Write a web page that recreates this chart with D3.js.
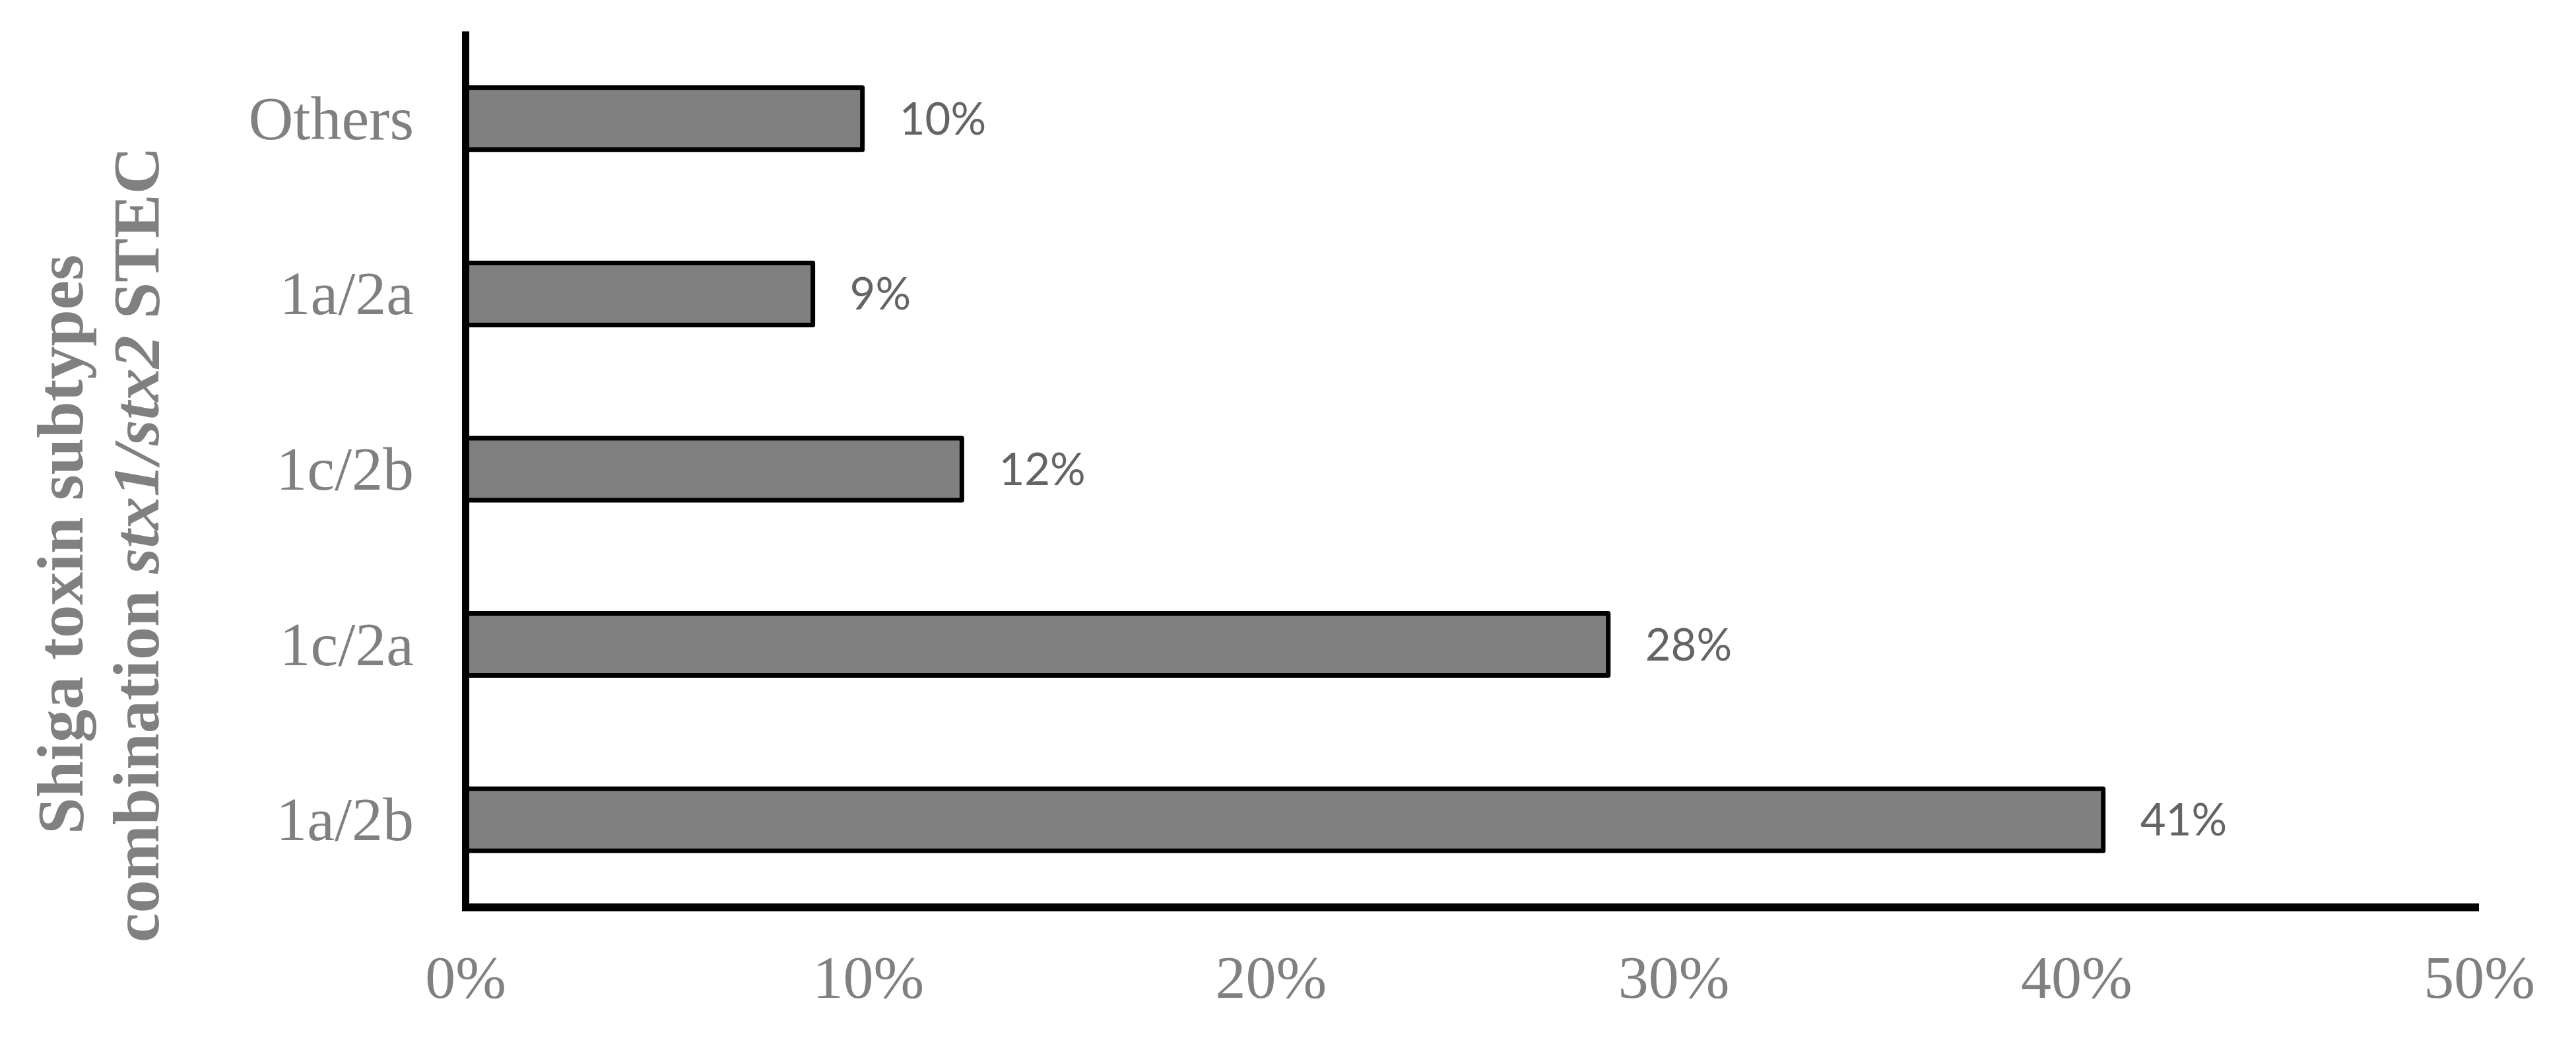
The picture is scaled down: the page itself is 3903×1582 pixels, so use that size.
<!DOCTYPE html>
<html>
<head>
<meta charset="utf-8">
<script src="https://cdn.jsdelivr.net/npm/d3@7"></script>
<style>
  html, body { margin: 0; padding: 0; background: #ffffff; }
  svg { display: block; }
</style>
</head>
<body>
<script>
// ---- data ----
const categories = ["Others", "1a/2a", "1c/2b", "1c/2a", "1a/2b"];
const values = [0.0986, 0.0863, 0.1233, 0.2838, 0.4067];
const valueLabels = ["10%", "9%", "12%", "28%", "41%"];
const xTicks = [0, 0.1, 0.2, 0.3, 0.4, 0.5];
const titleLine1 = "Shiga toxin subtypes";
const titleLine2 = [
  { text: "combination ", italic: false },
  { text: "stx1/stx2", italic: true },
  { text: " STEC", italic: false }
];

const W = 3903, H = 1582;
const svg = d3.select("body").append("svg")
  .attr("width", W).attr("height", H)
  .style("background", "#ffffff");

const x = d3.scaleLinear().domain([0, 0.5]).range([705, 3756]);
const y = d3.scaleBand().domain(categories).range([47, 1375])
  .paddingInner(0.646).paddingOuter(0.323);

const serif = "'Liberation Serif', 'Times New Roman', serif";
const gray = "#808080";

// bars
svg.append("g").selectAll("rect")
  .data(categories)
  .join("rect")
  .attr("x", x(0))
  .attr("y", d => y(d))
  .attr("width", (d, i) => x(values[i]) - x(0))
  .attr("height", y.bandwidth())
  .attr("fill", "#808080")
  .attr("stroke", "#000000")
  .attr("stroke-width", 7)
  .attr("stroke-linejoin", "round");

// value labels
svg.append("g").selectAll("text")
  .data(categories)
  .join("text")
  .attr("x", (d, i) => x(values[i]) + 56)
  .attr("y", d => y(d) + y.bandwidth() / 2 + 24)
  .attr("font-family", "Lato, 'Open Sans', sans-serif")
  .attr("font-size", 67)
  .attr("fill", "#646464")
  .text((d, i) => valueLabels[i]);

// x axis
const xAxis = svg.append("g")
  .attr("transform", "translate(0,1375)")
  .call(d3.axisBottom(x).tickValues(xTicks).tickFormat(d3.format(".0%"))
    .tickSize(0).tickSizeOuter(0).tickPadding(72));
xAxis.select(".domain").attr("stroke", "#000").attr("stroke-width", 12)
  .attr("d", `M${x(0) - 5},0H${x(0.5)}`);
xAxis.selectAll("text")
  .attr("dy", "0.71em")
  .attr("font-family", serif)
  .attr("font-size", 92)
  .attr("fill", gray);

// y axis
const yAxis = svg.append("g")
  .attr("transform", `translate(${x(0)},0)`)
  .call(d3.axisLeft(y).tickSize(0).tickSizeOuter(0).tickPadding(78));
yAxis.select(".domain").attr("stroke", "#000").attr("stroke-width", 11);
yAxis.selectAll("text")
  .attr("dy", "0.33em")
  .attr("font-family", serif)
  .attr("font-size", 94)
  .attr("fill", gray);

// y axis title (two lines, rotated)
const titleCy = 825;
const t1 = svg.append("text")
  .attr("transform", `translate(125,${titleCy}) rotate(-90)`)
  .attr("text-anchor", "middle")
  .attr("font-family", serif)
  .attr("font-weight", "bold")
  .attr("font-size", 100)
  .attr("fill", gray)
  .text(titleLine1);
const t2 = svg.append("text")
  .attr("transform", `translate(240,${titleCy}) rotate(-90)`)
  .attr("text-anchor", "middle")
  .attr("font-family", serif)
  .attr("font-weight", "bold")
  .attr("font-size", 100)
  .attr("fill", gray);
t2.selectAll("tspan").data(titleLine2).join("tspan")
  .attr("font-style", d => d.italic ? "italic" : "normal")
  .text(d => d.text);
</script>
</body>
</html>
